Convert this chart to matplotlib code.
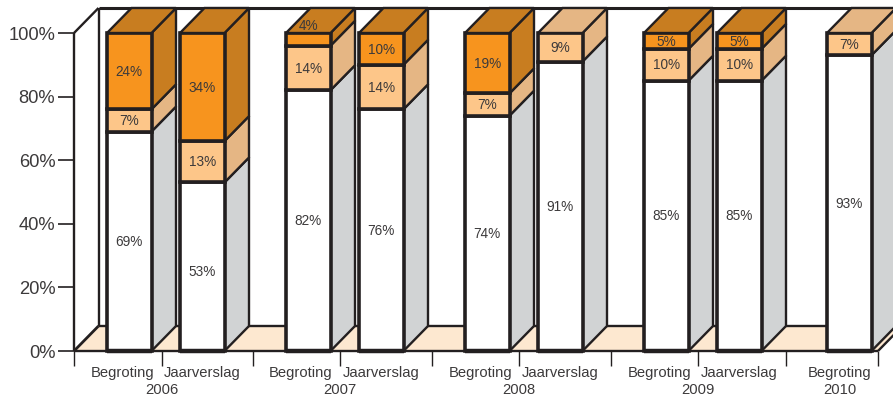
import matplotlib
matplotlib.use("Agg")
import matplotlib.pyplot as plt
from matplotlib.patches import Polygon

plt.rcParams['font.family'] = ['Liberation Sans', 'DejaVu Sans']

# shares per bar, bottom to top
bar_names = ["Begroting", "Jaarverslag", "Begroting", "Jaarverslag", "Begroting",
             "Jaarverslag", "Begroting", "Jaarverslag", "Begroting"]
base = [69, 53, 82, 76, 74, 91, 85, 85, 93]
middle = [7, 13, 14, 14, 7, 9, 10, 10, 7]
upper = [24, 34, 4, 10, 19, 0, 5, 5, 0]
years = ["2006", "2007", "2008", "2009", "2010"]
y_ticks = [0, 20, 40, 60, 80, 100]

# layout, x axis runs in pixels
bar_left = [107, 180, 286, 359, 465, 538, 644, 717, 827]
bar_w = 44.5
name_x = [123, 202, 301, 381, 481, 560, 660, 739, 840]
year_x = [162, 340, 519, 698, 840]
x_ticks = [74, 162, 253, 340, 432, 519, 611, 698, 786, 878]
px = 3.18  # pixels per percent
dx = 24.5
dy = 25 / px

INK = "#231f20"
TXT = "#3c3a3b"
front = ["#ffffff", "#fdc689", "#f7941e"]
side = ["#d1d3d4", "#e5b684", "#c87d20"]
FLOOR = "#fde8d0"

fig = plt.figure(figsize=(8.93, 3.96), dpi=100)
ax = fig.add_axes([74 / 893, 45 / 396, (893 - 74) / 893, 351 / 396])
ax.set_xlim(74, 893)
ax.set_ylim(0, 351 / px)
for s in ax.spines.values():
    s.set_visible(False)


def poly(pts, fc, lw=1.7, z=2):
    ax.add_patch(Polygon(pts, closed=True, fc=fc, ec=INK, lw=lw, clip_on=False,
                         joinstyle="miter", zorder=z))


def line(xs, ys, lw=1.7, z=1):
    ax.plot(xs, ys, color=INK, lw=lw, clip_on=False, zorder=z, solid_capstyle="butt")


# floor and back wall
ax.add_patch(Polygon([(74, 0), (74 + dx, dy), (878 + dx, dy), (878, 0)], fc=FLOOR, ec="none",
                     clip_on=False, zorder=0))
line([74, 878], [0, 0])
line([74, 74 + dx], [0, dy], lw=2)
line([878, 878 + dx], [0, dy])
line([74 + dx, 893], [dy, dy])
line([74, 74], [0, 100])
line([74, 74 + dx], [100, 100 + dy])
line([74 + dx, 74 + dx], [dy, 100 + dy])
line([74 + dx, 893], [100 + dy, 100 + dy], lw=2.2)

# the bars, left to right so the sides overlap properly
for i, x0 in enumerate(bar_left):
    x1 = x0 + bar_w
    bottom = 0
    segs = [base[i], middle[i], upper[i]]
    top_idx = 0
    for k, v in enumerate(segs):
        if v == 0:
            continue
        top = bottom + v
        top_idx = k
        poly([(x1, bottom), (x1 + dx, bottom + dy), (x1 + dx, top + dy), (x1, top)], side[k], z=3 + i)
        poly([(x0, bottom), (x1, bottom), (x1, top), (x0, top)], front[k], lw=2.6, z=3 + i)
        # labels of thin top slices go on the lid
        ty = bottom + v / 2
        if v < 5:
            ty = top + 2.5
        if v == 53:
            ty = bottom + v / 2 - 1.6
        ax.text(x0 + bar_w / 2, ty - 0.2, f"{v}%", ha="center", va="center", fontsize=9.8,
                color=TXT, zorder=40)
        bottom = top
    poly([(x0, bottom), (x0 + dx, bottom + dy), (x1 + dx, bottom + dy), (x1, bottom)],
         side[top_idx], z=3 + i)
    line([x0, x1], [0, 0], lw=3.2, z=3 + i)

ax.set_yticks(y_ticks)
ax.set_yticklabels([f"{t}%" for t in y_ticks], fontsize=13.2, color=TXT)
ax.tick_params(axis="y", length=11.5, width=1.2, color=INK, pad=2)
ax.set_xticks(x_ticks)
ax.set_xticklabels([])
ax.tick_params(axis="x", length=11, width=1.0, color=INK)

for x, name in zip(name_x, bar_names):
    ax.text(x, -22 / px, name, ha="center", va="center", fontsize=10.6, color=TXT)
for x, yr in zip(year_x, years):
    ax.text(x, -39 / px, yr, ha="center", va="center", fontsize=10.6, color=TXT)

fig.savefig("out.png", dpi=100)
